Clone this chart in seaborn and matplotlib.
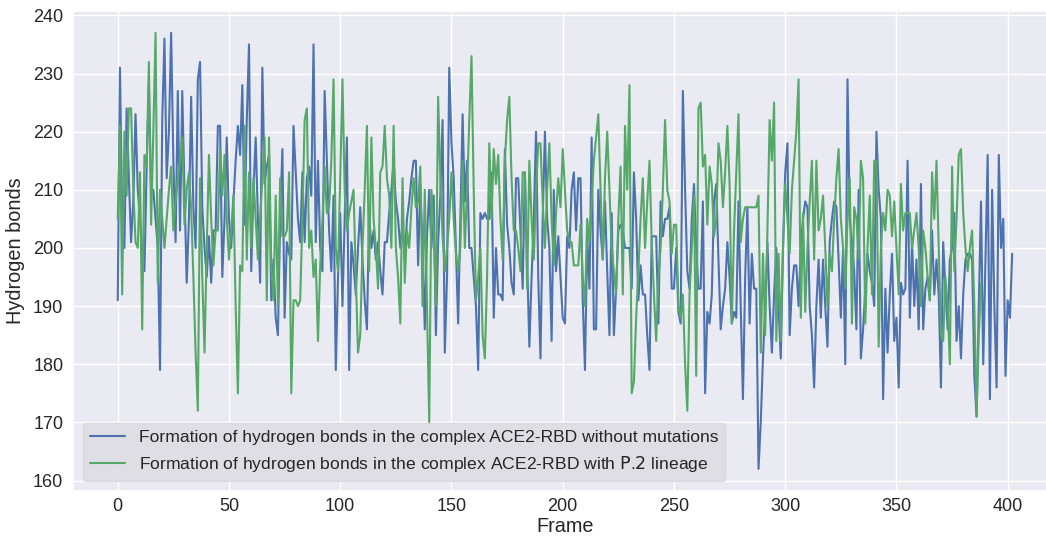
import pandas as pd
import seaborn as sns
import matplotlib.pyplot as plt

# hydrogen bonds per frame
hbonds_wt = [191, 231, 205, 200, 224, 212, 201, 208, 223, 210, 205, 200, 196, 214, 228, 210, 210, 205, 200, 179,
             222, 236, 212, 220, 237, 215, 201, 227, 203, 227, 210, 194, 205, 226, 207, 200, 229, 232, 207, 200,
             195, 202,
             194, 203, 203, 221, 221, 195, 205, 219, 205, 200, 208, 215, 221, 216, 228, 204, 222, 235, 196, 210,
             219, 205, 194, 231, 211, 214, 216, 191, 198, 188, 185, 205, 217, 188, 201, 199, 198, 221, 213, 205,
             201, 213, 201,
             212, 214, 209, 235, 201, 215, 200, 196, 227, 215, 203, 196, 209, 179, 195, 206, 190, 205, 219, 179,
             201, 197, 192, 200, 207, 198, 191, 186, 206, 200, 203, 198, 201, 196, 192, 201, 201, 206, 210, 215,
             208, 205, 200, 204, 198, 205, 208, 212, 215, 215, 197, 211, 200, 186, 202, 210, 200, 209, 185, 201,
             209, 222, 182, 195, 231, 218, 212, 200, 187, 205, 223, 208, 215, 200, 200, 195, 190, 179, 206, 205,
             206, 205, 205,
             213, 188, 200, 192, 192, 191, 217, 204, 200, 194, 192, 212, 212, 203, 193, 213, 198, 183, 195, 205,
             220, 195, 181, 205, 220, 205, 200, 184, 210, 196, 202, 195, 188, 187, 202, 200, 210, 213, 203, 212,
             212, 191, 179, 202, 193, 219, 186, 186, 210, 203, 198, 208, 196, 185, 206, 185, 193, 203, 204, 203,
             200, 200, 200, 193, 213, 205, 191, 197, 192, 192, 185, 179, 202, 202, 202, 187, 208, 202, 205, 205,
             207,
             193, 193, 200, 189, 187, 227, 210, 196, 193, 205, 211, 200, 193, 193, 208, 175, 189, 187, 192, 208,
             211, 198, 186, 190, 193, 201, 195, 187, 189, 188, 208, 190, 174, 195, 207, 187, 199, 193, 193, 162,
             170, 181, 190, 201, 190, 182, 192, 200, 190, 181, 200, 213, 218, 185, 193, 197, 197, 190, 200, 205,
             208, 207, 190, 185, 176, 190, 198, 188, 198, 190, 183, 201, 205, 208, 207, 198, 188, 200, 180, 229,
             205,
             201, 196, 186, 210, 181, 186, 193, 199, 196, 194, 190, 220, 210, 205, 174, 193, 182, 192, 199, 184,
             188, 176, 194, 192, 193, 215, 188, 201, 190, 198, 186, 211, 186, 193, 195, 191, 203, 192, 198, 192,
             176, 201, 193, 186, 198, 200, 206, 184, 190, 181, 192, 198, 199, 199, 198, 178, 171, 190, 208, 180,
             198, 216, 174, 210, 190, 176, 216, 200, 205, 178, 191, 188, 199]

hbonds_p2 = [205, 221, 192, 220, 209, 224, 224, 210, 201, 200, 213, 186, 216, 214, 232, 204, 220, 237, 194, 210,
             205, 200, 205, 210, 214, 203, 208, 212, 215, 219, 204, 210, 213, 207, 195, 182, 172, 212, 195, 182,
             200, 216,
             205, 197, 203, 203, 217, 209, 216, 205, 198, 203, 209, 190, 175, 197, 196, 221, 198, 213, 200, 212,
             205, 198, 205, 212, 219, 191, 219, 197, 191, 209, 190, 212, 202, 202, 203, 213, 175, 191, 191, 190,
             191, 205, 222,
             224, 200, 203, 195, 198, 184, 197, 205, 214, 206, 207, 215, 229, 200, 196, 212, 229, 210, 203, 206,
             208, 210, 195, 182, 185, 200, 210, 221, 196, 219, 205, 200, 193, 213, 214, 221, 212, 209, 200, 221,
             200, 195, 187, 212, 194, 203, 200, 207, 212, 207, 208, 214, 190, 210, 190, 170, 210, 203, 190, 226,
             212, 202, 196, 200, 205, 213, 205, 199, 196, 200, 215, 200, 210, 222, 233, 210, 191, 195, 200, 185,
             181, 195, 218,
             205, 217, 211, 216, 205, 198, 215, 222, 226, 212, 203, 203, 200, 196, 213, 213, 193, 215, 205, 198,
             210, 218, 218, 208, 200, 210, 218, 205, 197, 206, 212, 207, 217, 210, 203, 201, 201, 197, 197, 197,
             204, 195, 190, 205, 201, 208, 215, 219, 223, 210, 198, 212, 220, 210, 200, 196, 192, 205, 214, 192,
             221, 210, 228, 175, 177, 188, 196, 205, 212, 200, 208, 215, 201, 192, 184, 195, 200, 210, 222, 210,
             208,
             199, 204, 204, 190, 188, 192, 180, 172, 192, 200, 209, 178, 224, 225, 214, 216, 204, 214, 211, 202,
             205, 218, 215, 207, 213, 221, 211, 187, 203, 213, 223, 201, 205, 207, 207, 207, 207, 207, 207, 209,
             182, 199, 185, 203, 222, 215, 225, 184, 199, 184, 200, 211, 205, 199, 210, 215, 220, 229, 188, 206,
             189, 200, 208, 215, 198, 215, 203, 205, 209, 200, 190, 199, 196, 205, 212, 217, 205, 200, 193, 205,
             212,
             187, 207, 205, 198, 215, 212, 187, 200, 209, 192, 215, 215, 183, 200, 206, 203, 210, 209, 202, 208,
             200, 192, 211, 203, 206, 206, 206, 200, 203, 206, 200, 190, 203, 200, 195, 191, 213, 205, 215, 200,
             185, 184, 195, 190, 180, 214, 196, 205, 216, 217, 206, 200, 196, 200, 203, 190, 171, 185, 194]

label_wt = 'Formation of hydrogen bonds in the complex ACE2-RBD without mutations'
label_p2 = r'Formation of hydrogen bonds in the complex ACE2-RBD with $\mathrm{P}$.$\mathrm{2}$ lineage'

df_wt = pd.DataFrame({'Frame': range(len(hbonds_wt)), 'Hydrogen bonds': hbonds_wt})
df_p2 = pd.DataFrame({'Frame': range(len(hbonds_p2)), 'Hydrogen bonds': hbonds_p2})

sns.set_theme(style='darkgrid')
plt.rcParams['font.family'] = ['Liberation Sans', 'DejaVu Sans']

fig = plt.figure(figsize=(10.46, 5.37), dpi=100)
# axes runs a bit past the right edge, like the cropped original
ax = fig.add_axes([0.0698, 0.0862, 0.9406, 0.8933])

sns.lineplot(data=df_wt, x='Frame', y='Hydrogen bonds', ax=ax, color='#4C72B0', lw=1.5, label=label_wt)
sns.lineplot(data=df_p2, x='Frame', y='Hydrogen bonds', ax=ax, color='#55A868', lw=1.5, label=label_p2)

ax.set_xticks([0, 50, 100, 150, 200, 250, 300, 350, 400])
ax.set_yticks([160, 170, 180, 190, 200, 210, 220, 230, 240])
ax.tick_params(axis='x', labelsize=13, length=0, pad=5)
ax.tick_params(axis='y', labelsize=13, length=0, pad=7)
ax.set_xlabel('Frame', fontsize=14.3, labelpad=2)
ax.set_ylabel('Hydrogen bonds', fontsize=14.3, labelpad=6)

ax.legend(loc='lower left', fontsize=12.6, frameon=True, facecolor='#DCDCE2',
          edgecolor='#D6D6DC', framealpha=0.85, borderaxespad=0.55)

fig.savefig('out.png', dpi=100)
